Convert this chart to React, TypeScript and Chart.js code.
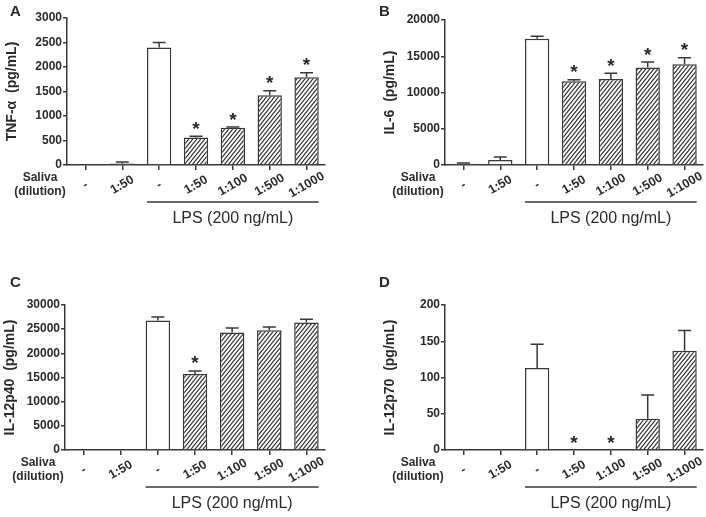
import React, { useEffect, useRef } from 'react';
import { Chart, registerables } from 'chart.js';

Chart.register(...registerables);

const categories = ['-', '1:50', '-', '1:50', '1:100', '1:500', '1:1000'];

const tnfMean = [0, 30, 2400, 560, 760, 1425, 1790];
const tnfSem = [0, 30, 100, 25, 15, 90, 95];
const tnfStars = [3, 4, 5, 6];

const il6Mean = [180, 700, 17400, 11550, 11850, 13450, 13900];
const il6Sem = [100, 400, 350, 200, 800, 750, 900];
const il6Stars = [3, 4, 5, 6];

const p40Mean = [0, 0, 26800, 15750, 24300, 24800, 26400];
const p40Sem = [0, 0, 700, 600, 950, 650, 650];
const p40Stars = [3];

const p70Mean = [0, 0, 113, 0, 0, 43, 137];
const p70Sem = [0, 0, 33, 0, 0, 33, 28];
const p70Stars = [3, 4];

const FONT = 'Liberation Sans, Arial, Helvetica, sans-serif';
const INK = '#2a2a2a';
const LINE = '#383838';

type PanelCfg = {
  letter: string;
  title: string;
  mean: number[];
  sem: number[];
  stars: number[];
  max: number;
  step: number;
  px: number;
  py: number;
  w: number;
  h: number;
  area: { left: number; top: number; right: number; bottom: number };
};

const panels: PanelCfg[] = [
  { letter: 'A', title: 'TNF-α  (pg/mL)', mean: tnfMean, sem: tnfSem, stars: tnfStars, max: 3000, step: 500,
    px: 0, py: 0, w: 353, h: 258, area: { left: 67, top: 18, right: 325, bottom: 165 } },
  { letter: 'B', title: 'IL-6  (pg/mL)', mean: il6Mean, sem: il6Sem, stars: il6Stars, max: 20000, step: 5000,
    px: 353, py: 0, w: 353, h: 258, area: { left: 92, top: 20, right: 350, bottom: 165 } },
  { letter: 'C', title: 'IL-12p40  (pg/mL)', mean: p40Mean, sem: p40Sem, stars: p40Stars, max: 30000, step: 5000,
    px: 0, py: 258, w: 353, h: 259, area: { left: 65, top: 47, right: 325, bottom: 192 } },
  { letter: 'D', title: 'IL-12p70  (pg/mL)', mean: p70Mean, sem: p70Sem, stars: p70Stars, max: 200, step: 50,
    px: 353, py: 258, w: 353, h: 259, area: { left: 92, top: 47, right: 350, bottom: 192 } },
];

function makeHatch(): CanvasPattern | string {
  const c = document.createElement('canvas');
  const w = 4, h = 5;
  c.width = w; c.height = h;
  const g = c.getContext('2d');
  if (!g) return '#fff';
  g.fillStyle = '#fff';
  g.fillRect(0, 0, w, h);
  g.strokeStyle = '#303030';
  g.lineWidth = 1.1;
  g.beginPath();
  g.moveTo(0, h); g.lineTo(w, 0);
  g.moveTo(-w, h); g.lineTo(0, 0);
  g.moveTo(0, 2 * h); g.lineTo(w, h);
  g.moveTo(-1, 1.25); g.lineTo(1, -1.25);
  g.moveTo(w - 1, h + 1.25); g.lineTo(w + 1, h - 1.25);
  g.stroke();
  const p = g.createPattern(c, 'repeat');
  return p || '#fff';
}

function Panel({ cfg }: { cfg: PanelCfg }) {
  const ref = useRef<HTMLCanvasElement | null>(null);
  useEffect(() => {
    const canvas = ref.current;
    if (!canvas) return;
    const hatch = makeHatch();
    const fills = cfg.mean.map((_, i) => (i < 3 ? '#ffffff' : hatch));
    const a = cfg.area;

    const extras = {
      id: 'extras' + cfg.letter,
      afterDatasetsDraw(chart: any) {
        const ctx = chart.ctx as CanvasRenderingContext2D;
        const ys = chart.scales.y;
        const xs = chart.scales.x;
        const meta = chart.getDatasetMeta(0);
        const ca = chart.chartArea;
        ctx.save();
        // error bars
        ctx.strokeStyle = LINE;
        ctx.lineWidth = 1.5;
        meta.data.forEach((bar: any, i: number) => {
          const v = cfg.mean[i];
          const e = cfg.sem[i];
          if (e > 0) {
            const yb = ys.getPixelForValue(v);
            const yt = ys.getPixelForValue(v + e);
            ctx.beginPath();
            ctx.moveTo(bar.x, yb);
            ctx.lineTo(bar.x, yt);
            ctx.moveTo(bar.x - 6.5, yt);
            ctx.lineTo(bar.x + 6.5, yt);
            ctx.stroke();
          }
        });
        // stars
        ctx.fillStyle = INK;
        ctx.font = `bold 19px ${FONT}`;
        ctx.textAlign = 'center';
        ctx.textBaseline = 'alphabetic';
        cfg.stars.forEach((i) => {
          const bar = meta.data[i] as any;
          const yt = ys.getPixelForValue(cfg.mean[i] + cfg.sem[i]);
          ctx.fillText('*', bar.x, yt - 1.5);
        });
        // x labels rotated
        ctx.font = `bold 12.5px ${FONT}`;
        ctx.textBaseline = 'middle';
        categories.forEach((lab, i) => {
          const x = xs.getPixelForValue(i);
          ctx.save();
          ctx.translate(x, ca.bottom + 20);
          ctx.rotate(-Math.PI / 6);
          ctx.fillText(lab, 0, 0);
          ctx.restore();
        });
        // Saliva (dilution)
        ctx.font = `bold 12px ${FONT}`;
        ctx.fillText('Saliva', ca.left - 27, ca.bottom + 13);
        ctx.fillText('(dilution)', ca.left - 27, ca.bottom + 27);
        // LPS bracket
        const b3 = meta.data[2] as any;
        const b7 = meta.data[6] as any;
        const x0 = b3.x - b3.width / 2;
        const x1 = b7.x + b7.width / 2;
        ctx.strokeStyle = LINE;
        ctx.lineWidth = 1.3;
        ctx.beginPath();
        ctx.moveTo(x0, ca.bottom + 37);
        ctx.lineTo(x1, ca.bottom + 37);
        ctx.stroke();
        ctx.font = `16px ${FONT}`;
        ctx.textBaseline = 'alphabetic';
        ctx.fillText('LPS (200 ng/mL)', (x0 + x1) / 2, ca.bottom + 58);
        // y title
        ctx.save();
        ctx.translate(ca.left - 55, (ca.top + ca.bottom) / 2);
        ctx.rotate(-Math.PI / 2);
        ctx.font = `bold 14px ${FONT}`;
        ctx.textBaseline = 'middle';
        ctx.fillText(cfg.title, 0, 0);
        ctx.restore();
        // panel letter
        ctx.font = `bold 15px ${FONT}`;
        ctx.textAlign = 'left';
        ctx.fillText(cfg.letter, cfg.letter === 'A' || cfg.letter === 'C' ? 10 : 26, cfg.py === 0 ? 16 : 29);
        ctx.restore();
      },
    };

    const chart = new Chart(canvas, {
      type: 'bar',
      data: {
        labels: categories,
        datasets: [
          {
            data: cfg.mean,
            backgroundColor: fills as any,
            borderColor: LINE,
            borderWidth: 1.5,
            barPercentage: 0.66,
            categoryPercentage: 1,
          },
        ],
      },
      options: {
        responsive: false,
        animation: false,
        devicePixelRatio: 1,
        layout: {
          padding: { left: 0, top: a.top, right: cfg.w - a.right, bottom: cfg.h - a.bottom - 6 },
        },
        scales: {
          x: {
            offset: true,
            grid: { display: true, drawOnChartArea: false, drawTicks: true, tickLength: 5, offset: false, color: LINE, lineWidth: 1.5 },
            border: { display: true, color: LINE, width: 1.5 },
            ticks: { display: false },
            afterFit: (s: any) => { s.height = 6; },
          },
          y: {
            min: 0,
            max: cfg.max,
            ticks: {
              stepSize: cfg.step,
              color: INK,
              padding: 1,
              font: { family: FONT, weight: 'bold', size: 12 },
              callback: (v: any) => String(v),
            },
            grid: { display: true, drawOnChartArea: false, drawTicks: true, tickLength: 4, color: LINE, lineWidth: 1.5 },
            border: { display: true, color: LINE, width: 1.5 },
            afterFit: (s: any) => { s.width = a.left; },
          },
        },
        plugins: { legend: { display: false }, tooltip: { enabled: false } },
      },
      plugins: [extras],
    } as any);
    return () => chart.destroy();
  }, [cfg]);
  return (
    <canvas
      ref={ref}
      width={cfg.w}
      height={cfg.h}
      style={{ position: 'absolute', left: cfg.px, top: cfg.py, width: cfg.w, height: cfg.h }}
    />
  );
}

export default function App() {
  return (
    <div style={{ position: 'absolute', left: 0, top: 0, width: 706, height: 517, background: '#fff', overflow: 'hidden' }}>
      {panels.map((p) => (
        <Panel key={p.letter} cfg={p} />
      ))}
    </div>
  );
}
